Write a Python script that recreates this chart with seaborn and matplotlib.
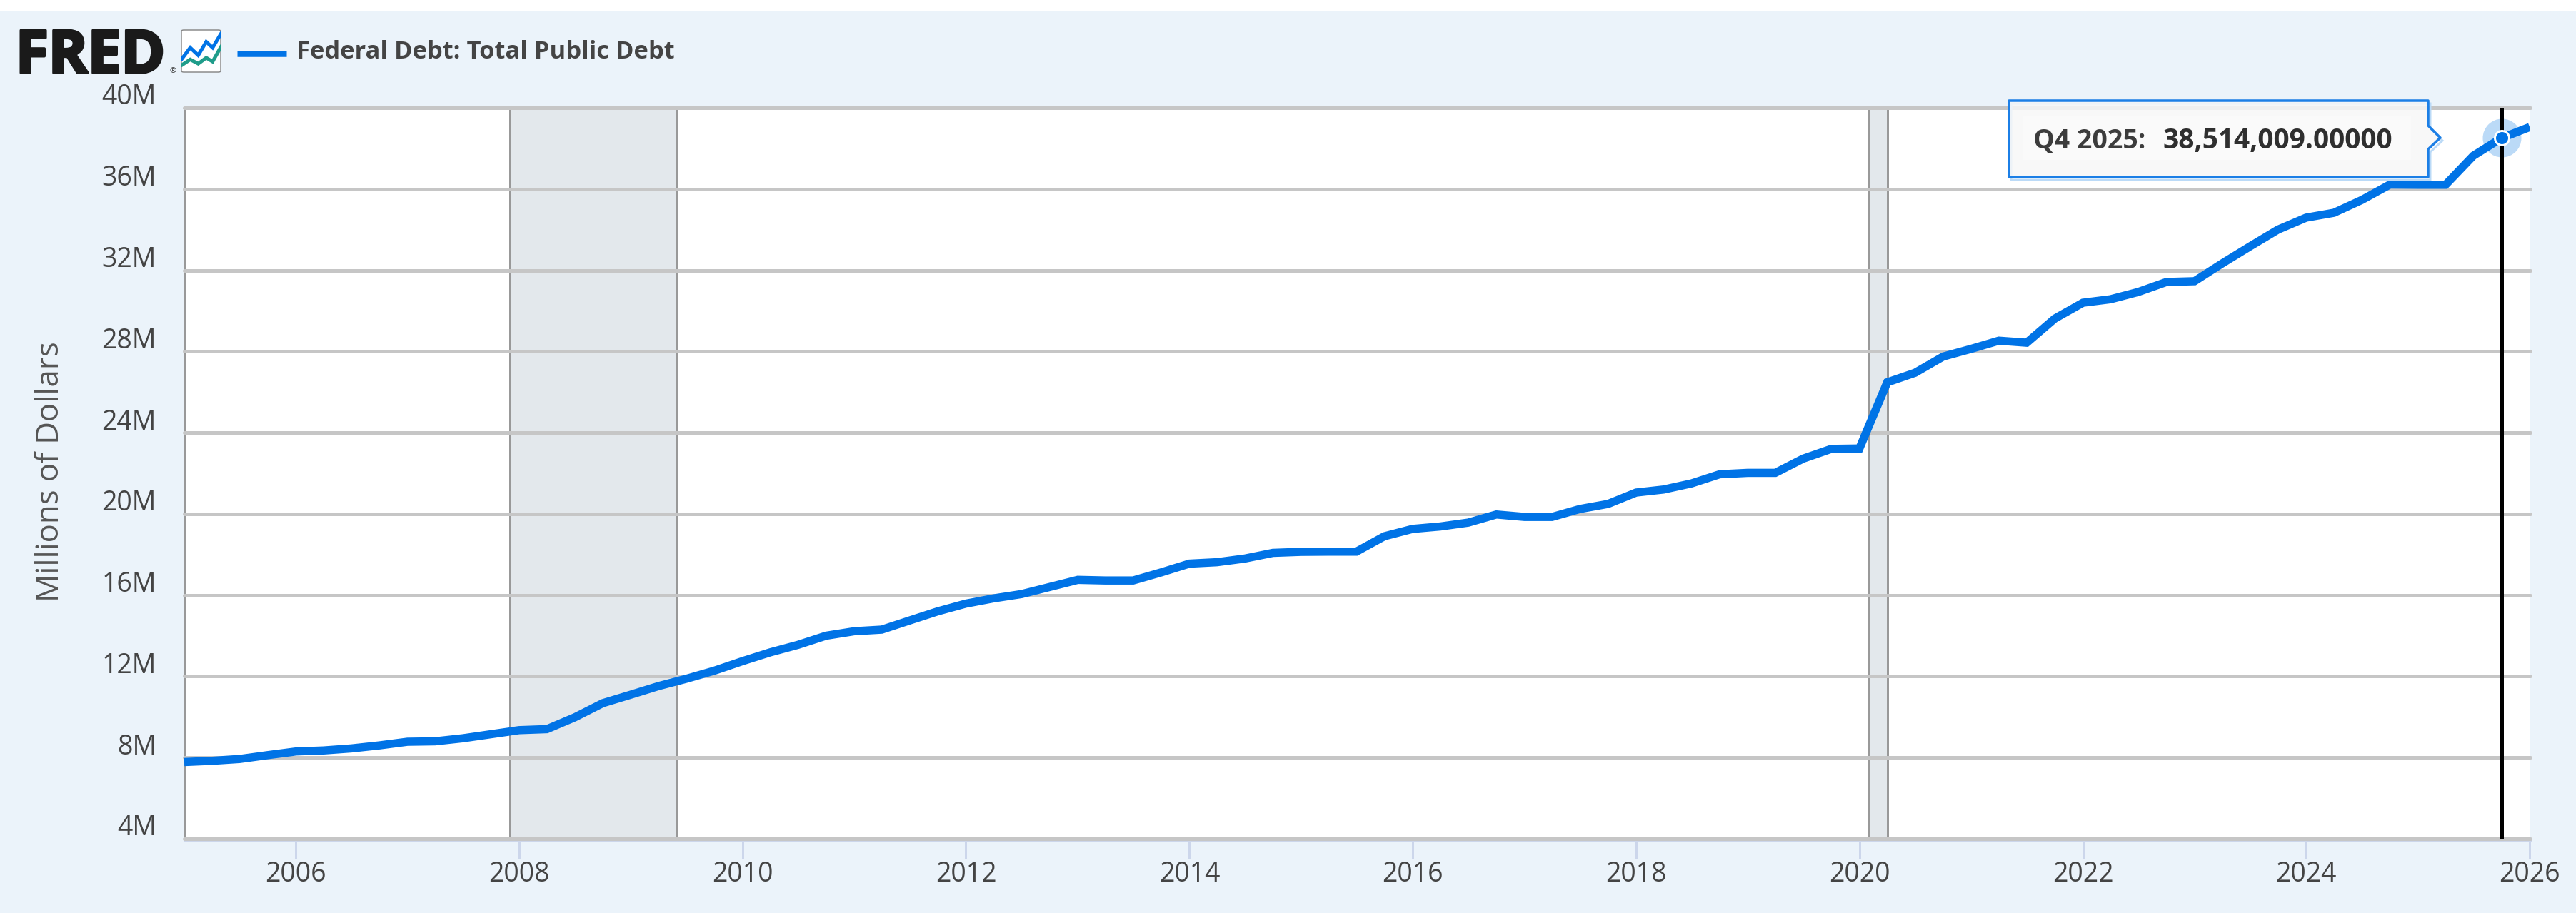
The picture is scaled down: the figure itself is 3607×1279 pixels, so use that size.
import matplotlib
matplotlib.use("Agg")
import matplotlib.pyplot as plt
import matplotlib.patheffects as pe
from matplotlib.lines import Line2D
from matplotlib.patches import Polygon, Rectangle, FancyBboxPatch
from matplotlib.transforms import ScaledTranslation
import pandas as pd
import seaborn as sns

W, H, DPI = 3607, 1279, 100

debt_millions_of_millions = [
    7.78, 7.84, 7.93, 8.12, 8.30, 8.35, 8.45, 8.60, 8.78, 8.80, 8.95, 9.15,
    9.35, 9.40, 9.98, 10.68, 11.10, 11.52, 11.88, 12.28, 12.75, 13.18, 13.55, 14.00,
    14.22, 14.30, 14.75, 15.20, 15.58, 15.84, 16.05, 16.40, 16.75, 16.72, 16.72, 17.12,
    17.55, 17.62, 17.80, 18.08, 18.13, 18.14, 18.14, 18.90, 19.26, 19.38, 19.57, 19.97,
    19.85, 19.85, 20.24, 20.49, 21.05, 21.20, 21.50, 21.95, 22.02, 22.02, 22.72, 23.20,
    23.22, 26.48, 26.95, 27.75, 28.13, 28.53, 28.43, 29.62, 30.40, 30.57, 30.93, 31.42,
    31.46, 32.33, 33.17, 34.00, 34.59, 34.83, 35.46, 36.22, 36.21, 36.21, 37.64, 38.51,
    39.05,
]
y_tick_values = [4, 8, 12, 16, 20, 24, 28, 32, 36, 40]
y_tick_labels = ["4M", "8M", "12M", "16M", "20M", "24M", "28M", "32M", "36M", "40M"]
x_tick_years = list(range(2006, 2027, 2))
recessions = [("2007-12-01", "2009-06-01"), ("2020-02-01", "2020-04-01")]
series_name = "Federal Debt: Total Public Debt"
y_title = "Millions of Dollars"
cursor_date = "2025-10-01"
cursor_value = 38.514009
tooltip_period = "Q4 2025:"
tooltip_value = "38,514,009.00000"
icon_blue_x = [0.0, 0.22, 0.42, 0.62, 0.78, 1.0]
icon_blue_y = [0.30, 0.58, 0.40, 0.72, 0.58, 0.93]
icon_teal_y = [0.16, 0.30, 0.20, 0.34, 0.25, 0.62]

BG = "#EBF3FA"
BLUE = "#0073E6"
GRID = "#C6C6C6"
TXT = "#444444"

sns.set_theme(style="white")
plt.rcParams["font.family"] = ["Open Sans", "DejaVu Sans"]

df = pd.DataFrame({
    "date": pd.date_range("2005-01-01", periods=len(debt_millions_of_millions), freq="QS"),
    "debt": debt_millions_of_millions,
})

fig = plt.figure(figsize=(W / DPI, H / DPI), dpi=DPI, facecolor=BG)
L, R, T, B = 258, 3543, 151, 1175
ax = fig.add_axes([L / W, 1 - B / H, (R - L) / W, (B - T) / H], facecolor="white")


def fx(x):
    return x / W


def fy(y):
    return 1 - y / H


def px(n):
    return n * 72 / DPI


fig.add_artist(Rectangle((0, fy(15)), 1, 15 / H, transform=fig.transFigure,
                         facecolor="white", edgecolor="none", zorder=-1))

for start, end in recessions:
    s, e = pd.Timestamp(start), pd.Timestamp(end)
    ax.axvspan(s, e, facecolor="#E3E8EC", edgecolor="none", zorder=1)
    for d in (s, e):
        ax.axvline(d, color="#999999", lw=px(3), zorder=1.2)

cd = pd.Timestamp(cursor_date)
ax.plot([cd], [cursor_value], "o", ms=px(54), color="#BBDAF7", mew=0, zorder=2.5, clip_on=False)

sns.lineplot(data=df, x="date", y="debt", ax=ax, color=BLUE, lw=px(11.5),
             solid_joinstyle="miter", solid_capstyle="butt", errorbar=None,
             legend=False, zorder=3)

ax.set_xlim(pd.Timestamp("2005-01-01"), pd.Timestamp("2026-01-03"))
ax.set_ylim(4, 40)
ax.set_yticks(y_tick_values, y_tick_labels)
ax.set_xticks([pd.Timestamp(f"{y}-01-01") for y in x_tick_years], [str(y) for y in x_tick_years])
ax.grid(axis="y", color=GRID, lw=px(5), zorder=2)
ax.grid(axis="x", visible=False)
for gl in ax.get_ygridlines():
    gl.set_clip_on(False)
    gl.set_zorder(2)
ax.set_axisbelow(False)

ax.tick_params(axis="y", length=0, pad=px(39), labelsize=27, labelcolor=TXT)
ax.tick_params(axis="x", length=px(25), width=px(3), color="#CCD6EB", pad=px(3),
               labelsize=27, labelcolor=TXT, bottom=True)
for lab in ax.get_yticklabels():
    lab.set_transform(lab.get_transform() + ScaledTranslation(0, 19 / DPI, fig.dpi_scale_trans))

for side in ("top", "right"):
    ax.spines[side].set_visible(False)
ax.spines["left"].set_color("#999999")
ax.spines["left"].set_linewidth(px(3))
ax.spines["bottom"].set_color("#CCD6EB")
ax.spines["bottom"].set_linewidth(px(3))
ax.spines["bottom"].set_position(("outward", px(3)))

ax.set_xlabel("")
ax.set_ylabel(y_title, fontsize=31.5, color="#555555", labelpad=0, va="center")
ax.yaxis.set_label_coords((71 - L) / (R - L), 0.502)

ax.axvline(cd, color="black", lw=px(6), zorder=4)
ax.plot([cd], [cursor_value], "o", ms=px(20), mfc=BLUE, mec="white", mew=px(3), zorder=6, clip_on=False)

# Tooltip
bx0, bx1, by0, by1 = 2813, 3400, 141, 248
tip = [(bx0, by0), (bx1, by0), (bx1, 176), (3417, 193), (bx1, 209), (bx1, by1), (bx0, by1)]
fig.add_artist(Polygon([(fx(a + 3), fy(b + 4)) for a, b in tip], closed=True, transform=fig.transFigure,
                       facecolor="none", edgecolor="#BBDAF7", lw=px(3), zorder=5))
fig.add_artist(Polygon([(fx(a), fy(b)) for a, b in tip], closed=True, transform=fig.transFigure,
                       facecolor="#F7F7F7", alpha=0.85, edgecolor="none", zorder=5.1))
fig.add_artist(Polygon([(fx(a), fy(b)) for a, b in tip], closed=True, transform=fig.transFigure,
                       facecolor="none", edgecolor="#1C7FE6", lw=px(3.5), joinstyle="round", zorder=5.2))
fig.add_artist(Rectangle((fx(2833), fy(224)), 543 / W, 62 / H, transform=fig.transFigure,
                         facecolor="#FAFAFA", edgecolor="none", zorder=5.3))
fig.text(fx(2847), fy(193), tooltip_period, fontsize=27, fontweight="bold", color="#3C3C3C",
         va="center_baseline", ha="left", zorder=6)
fig.text(fx(3028), fy(193), tooltip_value, fontsize=28, fontweight="bold", color="#2F2F2F",
         va="center_baseline", ha="left", zorder=6)

# Header: logo, icon, legend
fig.text(fx(22), fy(102), "FRED", fontsize=60, fontweight="bold", color="#1A1A1A",
         va="baseline", ha="left", zorder=6,
         path_effects=[pe.withStroke(linewidth=px(4), foreground="#1A1A1A")])
fig.text(fx(238), fy(102), "®", fontsize=8, color="#333333", va="baseline", ha="left", zorder=6)
fig.add_artist(FancyBboxPatch((fx(254), fy(101)), 55 / W, 59 / H, transform=fig.transFigure,
                              boxstyle="round,pad=0,rounding_size=0.001", facecolor="white",
                              edgecolor="#8A8A8A", lw=px(1.5), zorder=5))
iax = fig.add_axes([fx(254), fy(101), 56 / W, 59 / H], facecolor="none", zorder=6)
iax.plot(icon_blue_x, icon_blue_y, color=BLUE, lw=px(5), solid_joinstyle="miter")
iax.plot(icon_blue_x, icon_teal_y, color="#1F9C8A", lw=px(5), solid_joinstyle="miter")
iax.set_xlim(0, 1)
iax.set_ylim(0, 1)
iax.axis("off")
fig.add_artist(Line2D([fx(332), fx(401)], [fy(75), fy(75)], transform=fig.transFigure, color=BLUE,
                      lw=px(8.5), solid_capstyle="butt", zorder=6))
fig.text(fx(415), fy(69), series_name, fontsize=24.8, fontweight="bold", color="#444444",
         va="center_baseline", ha="left", zorder=6)

fig.savefig("out.png", dpi=DPI, facecolor=BG)
